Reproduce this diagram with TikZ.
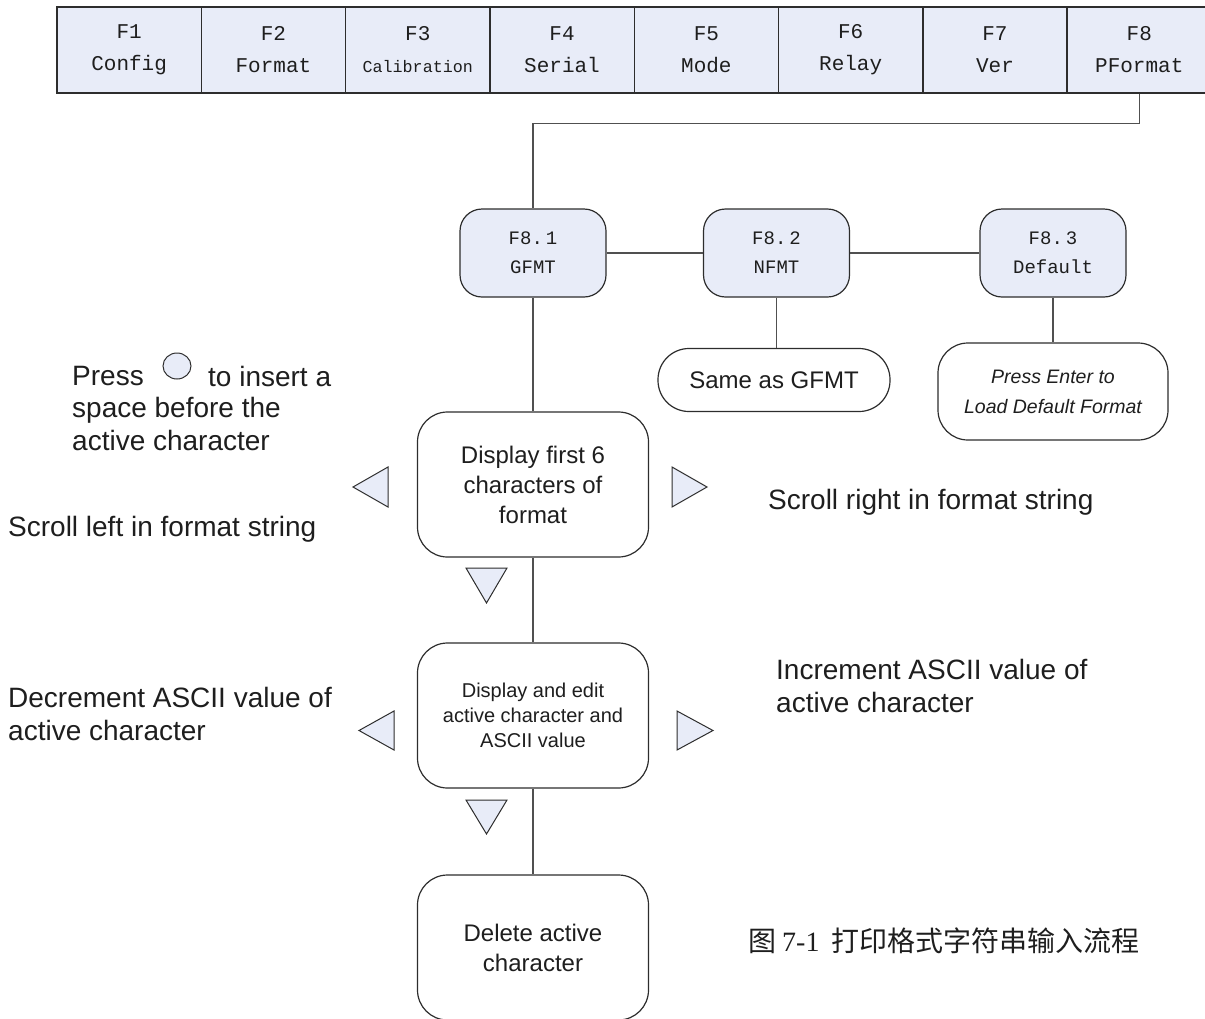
\documentclass[tikz,border=0pt]{standalone}
\usepackage{fontspec}
\setmainfont{Liberation Sans}
\newfontfamily\monofont{Liberation Mono}
\newfontfamily\cjkfont{Noto Sans CJK SC}
\newfontfamily\seriffont{Liberation Serif}
\usetikzlibrary{shapes.geometric}
\definecolor{boxfill}{RGB}{232,236,248}
\definecolor{linec}{RGB}{45,45,45}
\definecolor{connc}{RGB}{80,80,80}
\definecolor{textc}{RGB}{30,30,30}
\tikzset{
  cell/.style={draw=linec, line width=1.4pt, fill=boxfill, minimum width=144.3pt,
    minimum height=86pt, inner sep=0pt, align=center, text=textc,
    font=\monofont\fontsize{21}{32}\selectfont},
  fbox/.style={draw=linec, line width=1.2pt, fill=boxfill, rounded corners=22pt,
    minimum width=146pt, minimum height=88pt, inner sep=0pt, align=center, text=textc,
    font=\monofont\fontsize{19}{29}\selectfont},
  wbox/.style={draw=linec, line width=1.2pt, fill=white, rounded corners=30pt,
    minimum width=231pt, minimum height=145pt, inner sep=0pt, align=center, text=textc,
    font=\fontsize{24}{30}\selectfont},
  lbl/.style={inner sep=0pt, align=left, text=textc, font=\fontsize{28}{33}\selectfont},
  conn/.style={draw=connc, line width=1.2pt},
  tri/.style={draw=linec, line width=1pt, fill=boxfill, line join=miter},
  circ/.style={ellipse, draw=linec, line width=1pt, fill=boxfill,
    minimum width=28pt, minimum height=26pt, inner sep=0pt}
}
\begin{document}
\begin{tikzpicture}[x=1pt,y=-1pt]
\useasboundingbox (0,0) rectangle (1205,1018);
\clip (0,0) rectangle (1205,1018);

% top menu bar
\node[cell] (c1) at (57+0.5*144.3,50) {F1\\Config};
\node[cell] (c2) at (57+1.5*144.3,50) {F2\\Format};
\node[cell] (c3) at (57+2.5*144.3,50) {F3\\{\fontsize{16.7}{32}\selectfont Calibration}};
\node[cell] (c4) at (57+3.5*144.3,50) {F4\\Serial};
\node[cell] (c5) at (57+4.5*144.3,50) {F5\\Mode};
\node[cell] (c6) at (57+5.5*144.3,50) {F6\\Relay};
\node[cell] (c7) at (57+6.5*144.3,50) {F7\\Ver};
\node[cell, minimum width=150pt] (c8) at (57+7.5*144.3+2.85,50) {F8\hspace*{5.7pt}\\PFormat\hspace*{5.7pt}};

% F8 sub-menus
\node[fbox] (f81) at (533,253) {F8.\hspace{3pt}1\\GFMT};
\node[fbox] (f82) at (776.5,253) {F8.\hspace{3pt}2\\NFMT};
\node[fbox] (f83) at (1053,253) {F8.\hspace{3pt}3\\Default};

\node[wbox, minimum width=232pt, minimum height=63pt, rounded corners=31pt] (same) at (774,380) {Same as GFMT};
\node[wbox, minimum width=230pt, minimum height=97pt, font=\itshape\fontsize{19.5}{30}\selectfont] (enter) at (1053,391.5) {Press Enter to\\Load Default Format};

% main flow boxes
\node[wbox] (d1) at (533,484.5) {Display first 6\\characters of\\format};
\node[wbox, font=\fontsize{20}{25}\selectfont] (d2) at (533,715.5) {Display and edit\\active character and\\ASCII value};
\node[wbox] (d3) at (533,947.5) {Delete active\\character};

% connectors
\draw[conn] (c8.south -| 1139.5,0) -- ++(0,30) -| (f81.north);
\draw[conn] (f81.east) -- (f82.west);
\draw[conn] (f82.east) -- (f83.west);
\draw[conn] (f82.south) -- (f82.south |- same.north);
\draw[conn] (f83.south) -- (enter.north);
\draw[conn] (f81.south) -- (d1.north);
\draw[conn] (d1.south) -- (d2.north);
\draw[conn] (d2.south) -- (d3.north);

% key triangles
\draw[tri] (388,467) -- (353,487) -- (388,507) -- cycle;
\draw[tri] (672,467) -- (707,487) -- (672,507) -- cycle;
\draw[tri] (466,568) -- (507,568) -- (486.5,603) -- cycle;
\draw[tri] (394,711) -- (359,730.5) -- (394,750) -- cycle;
\draw[tri] (677,711) -- (713,730.5) -- (677,750) -- cycle;
\draw[tri] (466,800) -- (507,800) -- (486.5,834) -- cycle;

% side labels
\node[lbl, anchor=west] (press) at (72,376) {Press};
\node[circ] (btn) at (177,366) {};
\node[lbl, anchor=west] (ins) at (208,376) {to insert a};
\node[lbl, anchor=north west] (spc) at (72,397) {space before the\\active character};
\node[lbl, anchor=west] (sl) at (8,529) {Scroll left in format string};
\node[lbl, anchor=west] (sr) at (768,502) {Scroll right in format string};
\node[lbl, anchor=west] (dec) at (8,714) {Decrement ASCII value of\\active character};
\node[lbl, anchor=west] (inc) at (776,686) {Increment ASCII value of\\active character};

% caption
\node[lbl, anchor=west] (cap) at (748,941) {{\cjkfont 图}\hspace{6pt}{\seriffont 7-1}\hspace{12pt}{\cjkfont 打印格式字符串输入流程}};
\end{tikzpicture}
\end{document}
